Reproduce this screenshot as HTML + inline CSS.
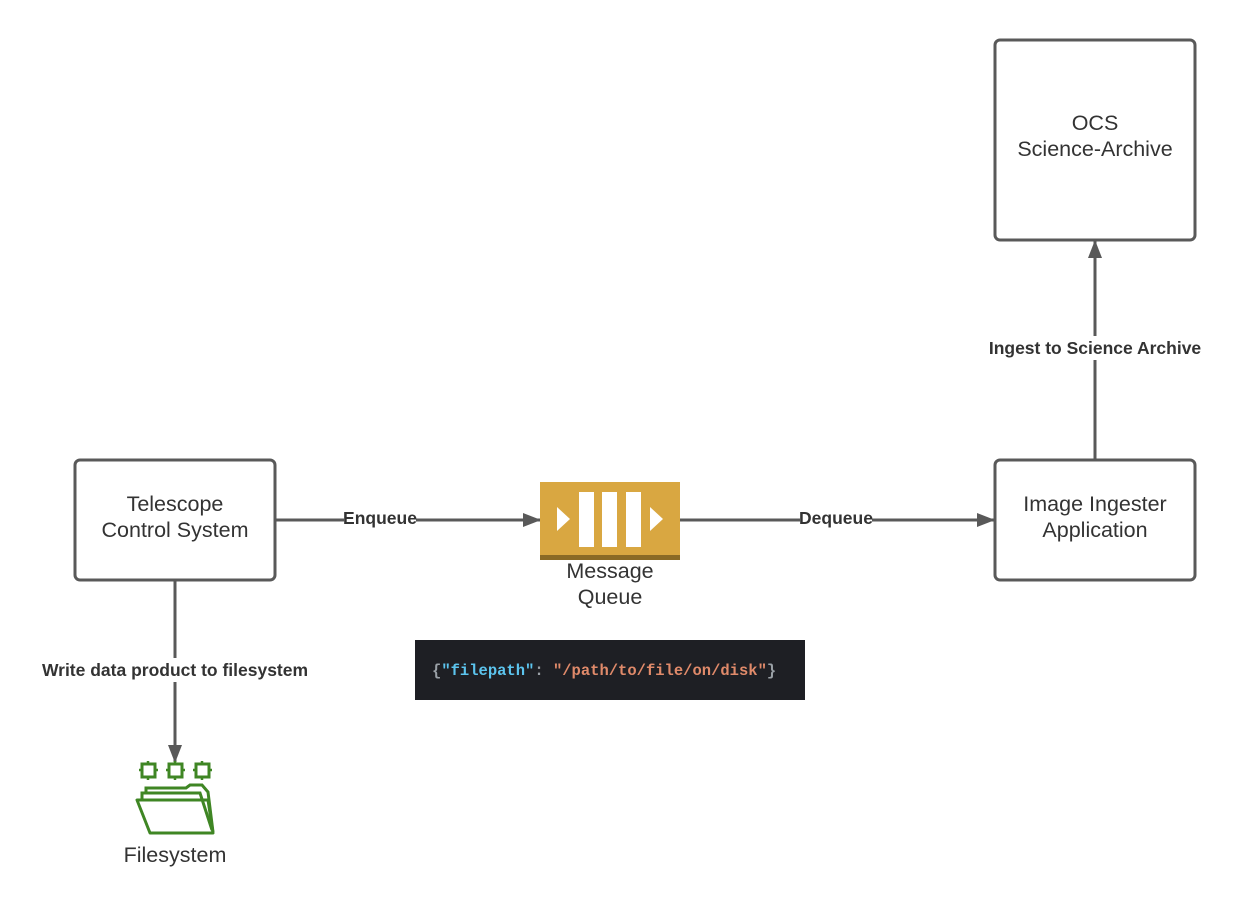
<!DOCTYPE html>
<html><head><style>
html,body{margin:0;padding:0;background:#fff;}
svg{display:block;}
</style></head><body>
<svg width="1243" height="905" viewBox="0 0 1243 905" xmlns="http://www.w3.org/2000/svg" font-family="Liberation Sans, sans-serif">
<defs>
<marker id="a" markerWidth="18" markerHeight="14" refX="17" refY="7" orient="auto" markerUnits="userSpaceOnUse">
<path d="M0,0 L18,7 L0,14 z" fill="#595959"/></marker>
</defs>
<g stroke="#595959" stroke-width="3" fill="none">
<line x1="276" y1="520" x2="540" y2="520" marker-end="url(#a)"/>
<line x1="680" y1="520" x2="994" y2="520" marker-end="url(#a)"/>
<line x1="1095" y1="459" x2="1095" y2="241" marker-end="url(#a)"/>
<line x1="175" y1="581" x2="175" y2="762" marker-end="url(#a)"/>
</g>
<g fill="#fff" stroke="#595959" stroke-width="3">
<rect x="75" y="460" width="200" height="120" rx="5"/>
<rect x="995" y="460" width="200" height="120" rx="5"/>
<rect x="995" y="40" width="200" height="200" rx="5"/>
</g>
<g font-size="21.5" fill="#333" text-anchor="middle">
<text x="175" y="511">Telescope</text><text x="175" y="537">Control System</text>
<text x="1095" y="511">Image Ingester</text><text x="1095" y="537">Application</text>
<text x="1095" y="130">OCS</text><text x="1095" y="156">Science-Archive</text>
<text x="610" y="578">Message</text><text x="610" y="604">Queue</text>
<text x="175" y="862">Filesystem</text>
</g>
<g font-size="17.5" font-weight="bold" fill="#333" text-anchor="middle">
<rect x="344" y="509" width="72" height="20" fill="#fff"/><text x="380" y="524">Enqueue</text>
<rect x="800" y="509" width="72" height="20" fill="#fff"/><text x="836" y="524">Dequeue</text>
<rect x="985" y="336" width="220" height="24" fill="#fff"/><text x="1095" y="354">Ingest to Science Archive</text>
<rect x="38" y="658" width="274" height="24" fill="#fff"/><text x="175" y="676">Write data product to filesystem</text>
</g>
<rect x="540" y="482" width="140" height="78" fill="#d9a741"/>
<rect x="540" y="555" width="140" height="5" fill="#8a6a25"/>
<g fill="#fff">
<rect x="579" y="492" width="15" height="55"/><rect x="602" y="492" width="15" height="55"/><rect x="626" y="492" width="15" height="55"/>
<path d="M557,507 L570,519 L557,531 z"/><path d="M650,507 L663,519 L650,531 z"/>
</g>
<rect x="415" y="640" width="390" height="60" fill="#1e1f24"/>
<text x="432" y="675" font-family="Liberation Mono, monospace" font-size="15.5" font-weight="bold" fill="#9aa0a6">{<tspan fill="#5cc4ee">"filepath"</tspan>: <tspan fill="#e08a6a">"/path/to/file/on/disk"</tspan>}</text>
<g fill="none" stroke="#3f8624" stroke-width="3">
<rect x="142" y="764" width="13" height="13"/><rect x="169" y="764" width="13" height="13"/><rect x="196" y="764" width="13" height="13"/>
<path d="M137,800 L208,800 L213,833 L150,833 z" stroke-linejoin="round"/>
<path d="M142,800 L142,793 L200,793 L212,830" />
<path d="M146,793 L146,788 L186,788 L190,785 L202,785 L208,792 L213,832"/>
</g>
<g stroke="#3f8624" stroke-width="2.5">
<path d="M148,761v3M148,777v3M139,770h3M155,770h3M175,761v3M175,777v3M166,770h3M182,770h3M202,761v3M202,777v3M193,770h3M209,770h3"/>
</g>
</svg>
</body></html>
